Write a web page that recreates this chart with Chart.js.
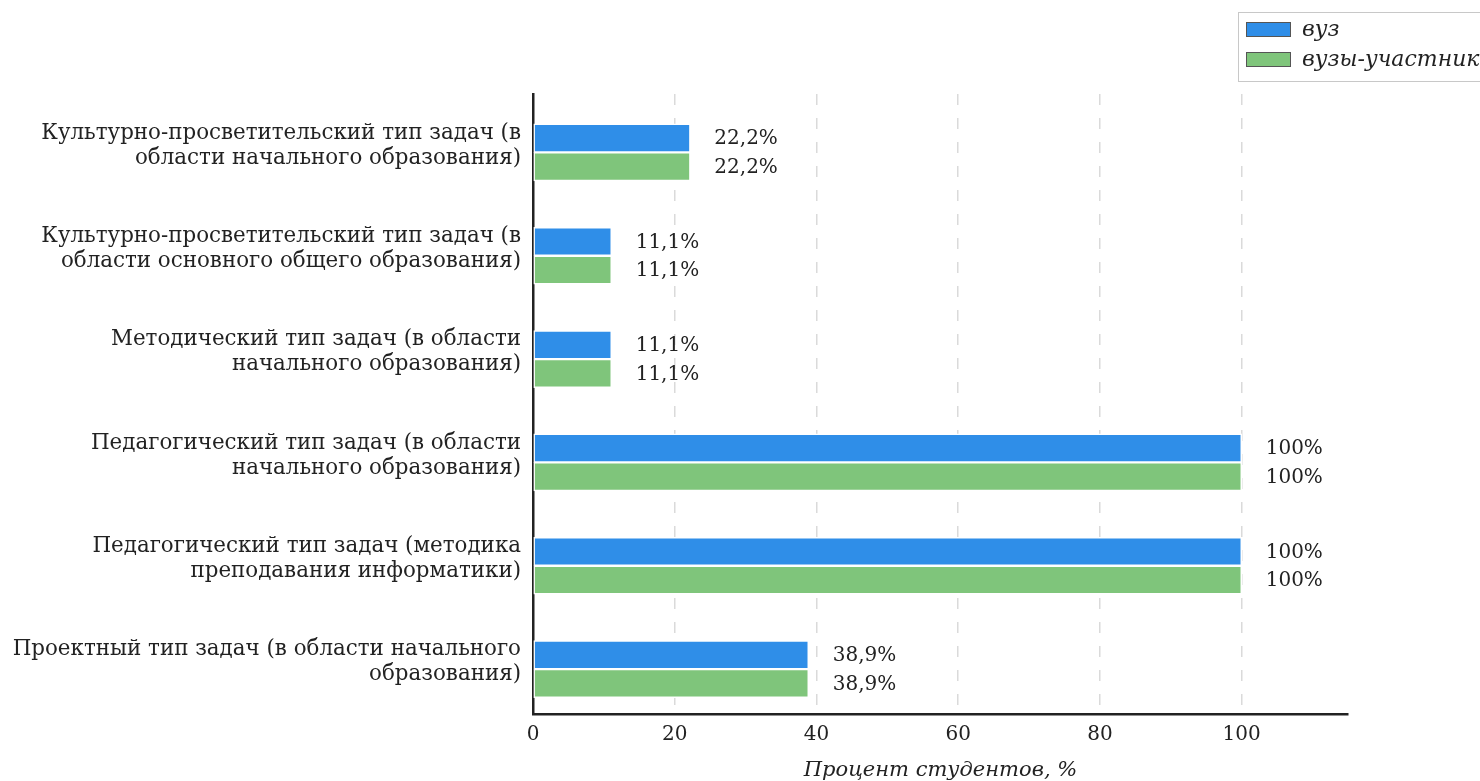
<!DOCTYPE html>
<html>
<head>
<meta charset="utf-8">
<script src="https://cdn.jsdelivr.net/npm/chart.js@4.4.1/dist/chart.umd.min.js"></script>
<style>
  html, body { margin: 0; padding: 0; background: #fff; }
  canvas { display: block; }
</style>
</head>
<body>
<canvas id="barChart" width="1480" height="781"></canvas>
<script>
const categories = [
  ['Культурно-просветительский тип задач (в', 'области начального образования)'],
  ['Культурно-просветительский тип задач (в', 'области основного общего образования)'],
  ['Методический тип задач (в области', 'начального образования)'],
  ['Педагогический тип задач (в области', 'начального образования)'],
  ['Педагогический тип задач (методика', 'преподавания информатики)'],
  ['Проектный тип задач (в области начального', 'образования)']
];
const vuzValues = [22.2, 11.1, 11.1, 100, 100, 38.9];
const uchValues = [22.2, 11.1, 11.1, 100, 100, 38.9];
const seriesNames = ['вуз', 'вузы-участники'];
const xTicks = [0, 20, 40, 60, 80, 100];
const xTitle = 'Процент студентов, %';

const FONT = "'DejaVu Serif', serif";
const BLUE = '#2f8ee8';
const GREEN = '#7fc57b';
const SHIFT = 0.065; // bars sit a bit below the label centre

function fmt(v) {
  return String(v).replace('.', ',') + '%';
}

// value labels right of every bar
const valueLabels = {
  id: 'valueLabels',
  afterDatasetsDraw(chart) {
    const ctx = chart.ctx;
    ctx.save();
    ctx.font = '20px ' + FONT;
    ctx.fillStyle = '#222';
    ctx.textAlign = 'left';
    ctx.textBaseline = 'middle';
    chart.data.datasets.forEach((ds, di) => {
      chart.getDatasetMeta(di).data.forEach((bar, i) => {
        ctx.fillText(fmt(ds.data[i].x), bar.x + 24, bar.y + 1);
      });
    });
    ctx.restore();
  }
};

// legend box in the top right corner
const cornerLegend = {
  id: 'cornerLegend',
  afterDraw(chart) {
    const ctx = chart.ctx;
    ctx.save();
    ctx.strokeStyle = '#c8c8c8';
    ctx.lineWidth = 1;
    ctx.strokeRect(1238.5, 12.5, 260, 69);
    const colors = [BLUE, GREEN];
    const ys = [22, 52];
    ctx.font = 'italic 22px ' + FONT;
    ctx.textBaseline = 'middle';
    ctx.textAlign = 'left';
    seriesNames.forEach((name, i) => {
      ctx.fillStyle = colors[i];
      ctx.fillRect(1246, ys[i], 45, 15);
      ctx.strokeStyle = '#555';
      ctx.strokeRect(1246.5, ys[i] + 0.5, 44, 14);
      ctx.fillStyle = '#222';
      ctx.fillText(name, 1302, ys[i] + 8);
    });
    ctx.restore();
  }
};

const ctx = document.getElementById('barChart').getContext('2d');
const chart = new Chart(ctx, {
  type: 'bar',
  data: {
    datasets: [{
      label: seriesNames[0],
      data: vuzValues.map((v, i) => ({ x: v, y: i + SHIFT })),
      backgroundColor: BLUE,
      borderColor: '#ffffff',
      borderWidth: 1.5,
      borderSkipped: false,
      barThickness: 28.5
    }, {
      label: seriesNames[1],
      data: uchValues.map((v, i) => ({ x: v, y: i + SHIFT })),
      backgroundColor: GREEN,
      borderColor: '#ffffff',
      borderWidth: 1.5,
      borderSkipped: false,
      barThickness: 28.5
    }]
  },
  options: {
    indexAxis: 'y',
    responsive: false,
    animation: false,
    layout: { padding: { left: 0, top: 94, right: 132, bottom: 0 } },
    plugins: {
      legend: { display: false },
      tooltip: { enabled: false }
    },
    scales: {
      x: {
        type: 'linear',
        min: 0,
        max: 115,
        afterBuildTicks: (scale) => { scale.ticks = xTicks.map(v => ({ value: v })); },
        afterFit: (scale) => { scale.height = 67; },
        grid: { color: '#dadada', lineWidth: 1.5, drawTicks: false },
        border: { display: true, color: '#222', width: 2.5, dash: [11, 13] },
        ticks: { color: '#222', padding: 9, font: { family: FONT, size: 20 } },
        title: {
          display: true,
          text: xTitle,
          color: '#222',
          padding: { top: 0, bottom: -2 },
          font: { family: FONT, size: 21, style: 'italic' }
        }
      },
      y: {
        type: 'linear',
        reverse: true,
        offset: false,
        min: -0.5,
        max: categories.length - 0.5,
        afterBuildTicks: (scale) => { scale.ticks = categories.map((c, i) => ({ value: i })); },
        afterFit: (scale) => { scale.width = 533; },
        grid: { display: false, drawTicks: false },
        border: { display: true, color: '#222', width: 2.5 },
        ticks: {
          color: '#222',
          padding: 12,
          font: { family: FONT, size: 21.4, lineHeight: 1.17 },
          callback: (v) => categories[v]
        }
      }
    }
  },
  plugins: [valueLabels, cornerLegend]
});
</script>
</body>
</html>
